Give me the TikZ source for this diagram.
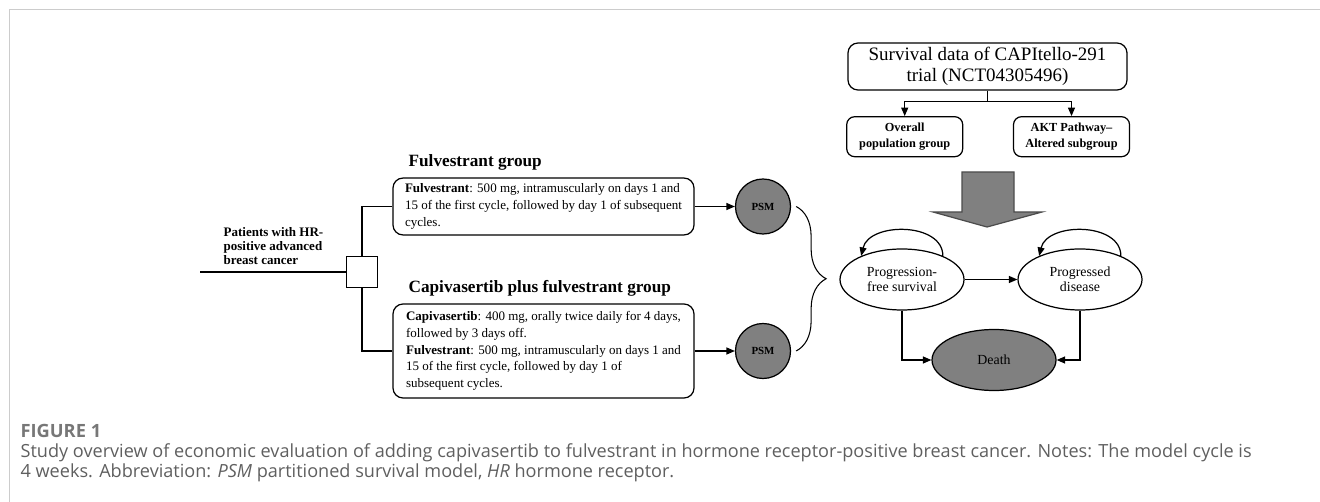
\documentclass[tikz,border=0pt]{standalone}
\usepackage{fontspec}
\setmainfont{Liberation Serif}
\newfontfamily\capfont{Open Sans}
\usetikzlibrary{arrows.meta,decorations.pathreplacing,shapes.geometric,calc}

\definecolor{fillgray}{RGB}{128,128,128}
\definecolor{framegray}{RGB}{204,204,204}
\definecolor{capgray}{RGB}{95,95,95}

\begin{document}
\begin{tikzpicture}[x=0.2mm,y=-0.2mm,line width=0.7pt,
  arr/.style={-{Triangle[length=1.7mm,width=1.4mm]}},
  txtbox/.style={draw,rounded corners=2mm,align=left,minimum width=60.2mm,font=\fontsize{7.4}{9.5}\selectfont},
  subbox/.style={draw,rounded corners=1.6mm,align=center,minimum width=23.2mm,minimum height=8mm,inner sep=0,font=\fontsize{7}{9.5}\selectfont\bfseries},
  psm/.style={circle,draw,fill=fillgray,minimum size=11mm,inner sep=0,font=\fontsize{6.2}{7}\selectfont\bfseries},
  markov/.style={ellipse,draw,minimum width=24.8mm,minimum height=12.2mm,inner sep=0,align=center,font=\fontsize{7.9}{8.4}\selectfont},
  title/.style={anchor=base west,inner sep=0,font=\fontsize{9.8}{11}\selectfont\bfseries}]
\useasboundingbox (0,0) rectangle (1320,502);
\draw[framegray,line width=1pt] (1320,9.5) -- (9.5,9.5) -- (9.5,502);

% treatment arms
\coordinate (start) at (200,272);
\node[draw,minimum size=6.2mm,inner sep=0] (sq) at (362,272) {};
\node[anchor=west,inner sep=0,align=left,font=\fontsize{7.4}{8}\selectfont\bfseries] (pat) at (223,246) {Patients with HR-\\positive advanced\\breast cancer};
\node[title] (fulvtitle) at (408,167) {Fulvestrant group};
\node[title] (capititle) at (408,293) {Capivasertib plus fulvestrant group};
\node[txtbox,minimum height=11mm] (fulvbox) at (543.5,206.5) {\textbf{Fulvestrant}: 500 mg, intramuscularly on days 1 and\\15 of the first cycle, followed by day 1 of subsequent\\cycles.};
\node[txtbox,minimum height=18.8mm] (capibox) at (543.5,351) {\textbf{Capivasertib}: 400 mg, orally twice daily for 4 days,\\followed by 3 days off.\\\textbf{Fulvestrant}: 500 mg, intramuscularly on days 1 and\\15 of the first cycle, followed by day 1 of\\subsequent cycles.};
\node[psm] (psm1) at (763,206.5) {PSM};
\node[psm] (psm2) at (763,351) {PSM};

\draw (start) -- (sq.west);
\draw (sq.north) |- (fulvbox.west);
\draw (sq.south) |- (capibox.west);
\draw[arr] (fulvbox.east) -- (psm1.west);
\draw[arr] (capibox.east) -- (psm2.west);
\draw[line width=0.6pt,decorate,decoration={brace,amplitude=6mm}] ([xshift=1mm]psm1.east) -- ([xshift=1mm]psm2.east);

% survival data
\node[draw,rounded corners=2mm,align=center,minimum width=55.8mm,minimum height=9.4mm,inner sep=0,font=\fontsize{10.8}{12.3}\selectfont] (surv) at (987.5,66.5) {Survival data of CAPItello-291\\trial (NCT04305496)};
\node[subbox] (overall) at (904.7,136.7) {Overall\\population group};
\node[subbox] (akt) at (1071.5,136.7) {AKT Pathway–\\Altered subgroup};
\coordinate (split) at ($(surv.south)+(0,11)$);
\draw (surv.south) -- (split);
\draw[arr] (split) -| (overall.north);
\draw[arr] (split) -| (akt.north);

\filldraw[fill=fillgray,draw=black!70] (962,172) -- (1014,172) -- (1014,212) -- (1042,212) -- (987,227) -- (933,212) -- (962,212) -- cycle;

% model states
\node[markov] (pfs) at (902,279.5) {Progression-\\free survival};
\node[markov] (pd) at (1080,279.5) {Progressed\\disease};
\node[markov,fill=fillgray] (death) at (994,360) {Death};
\draw[arr] (pfs) -- (pd);
\draw[arr] (pfs.south) |- (death.west);
\draw[arr] (pd.south) |- (death.east);
\draw[arr] (pfs.30) .. controls +(0,-34) and +(8,-34) .. (pfs.150);
\draw[arr] (pd.30) .. controls +(0,-34) and +(8,-34) .. (pd.150);

% caption
\node[anchor=base west,inner sep=0,text=capgray!85,font=\capfont\fontsize{10.4}{11}\selectfont\bfseries] (fig) at (20,437) {FIGURE 1};
\node[anchor=north west,inner sep=0,align=left,text=capgray,font=\capfont\fontsize{10.3}{11.3}\selectfont] (cap) at (20,443) {Study overview of economic evaluation of adding capivasertib to fulvestrant in hormone receptor-positive breast cancer. Notes: The model cycle is\\4 weeks. Abbreviation: \textit{PSM} partitioned survival model, \textit{HR} hormone receptor.};
\end{tikzpicture}
\end{document}
